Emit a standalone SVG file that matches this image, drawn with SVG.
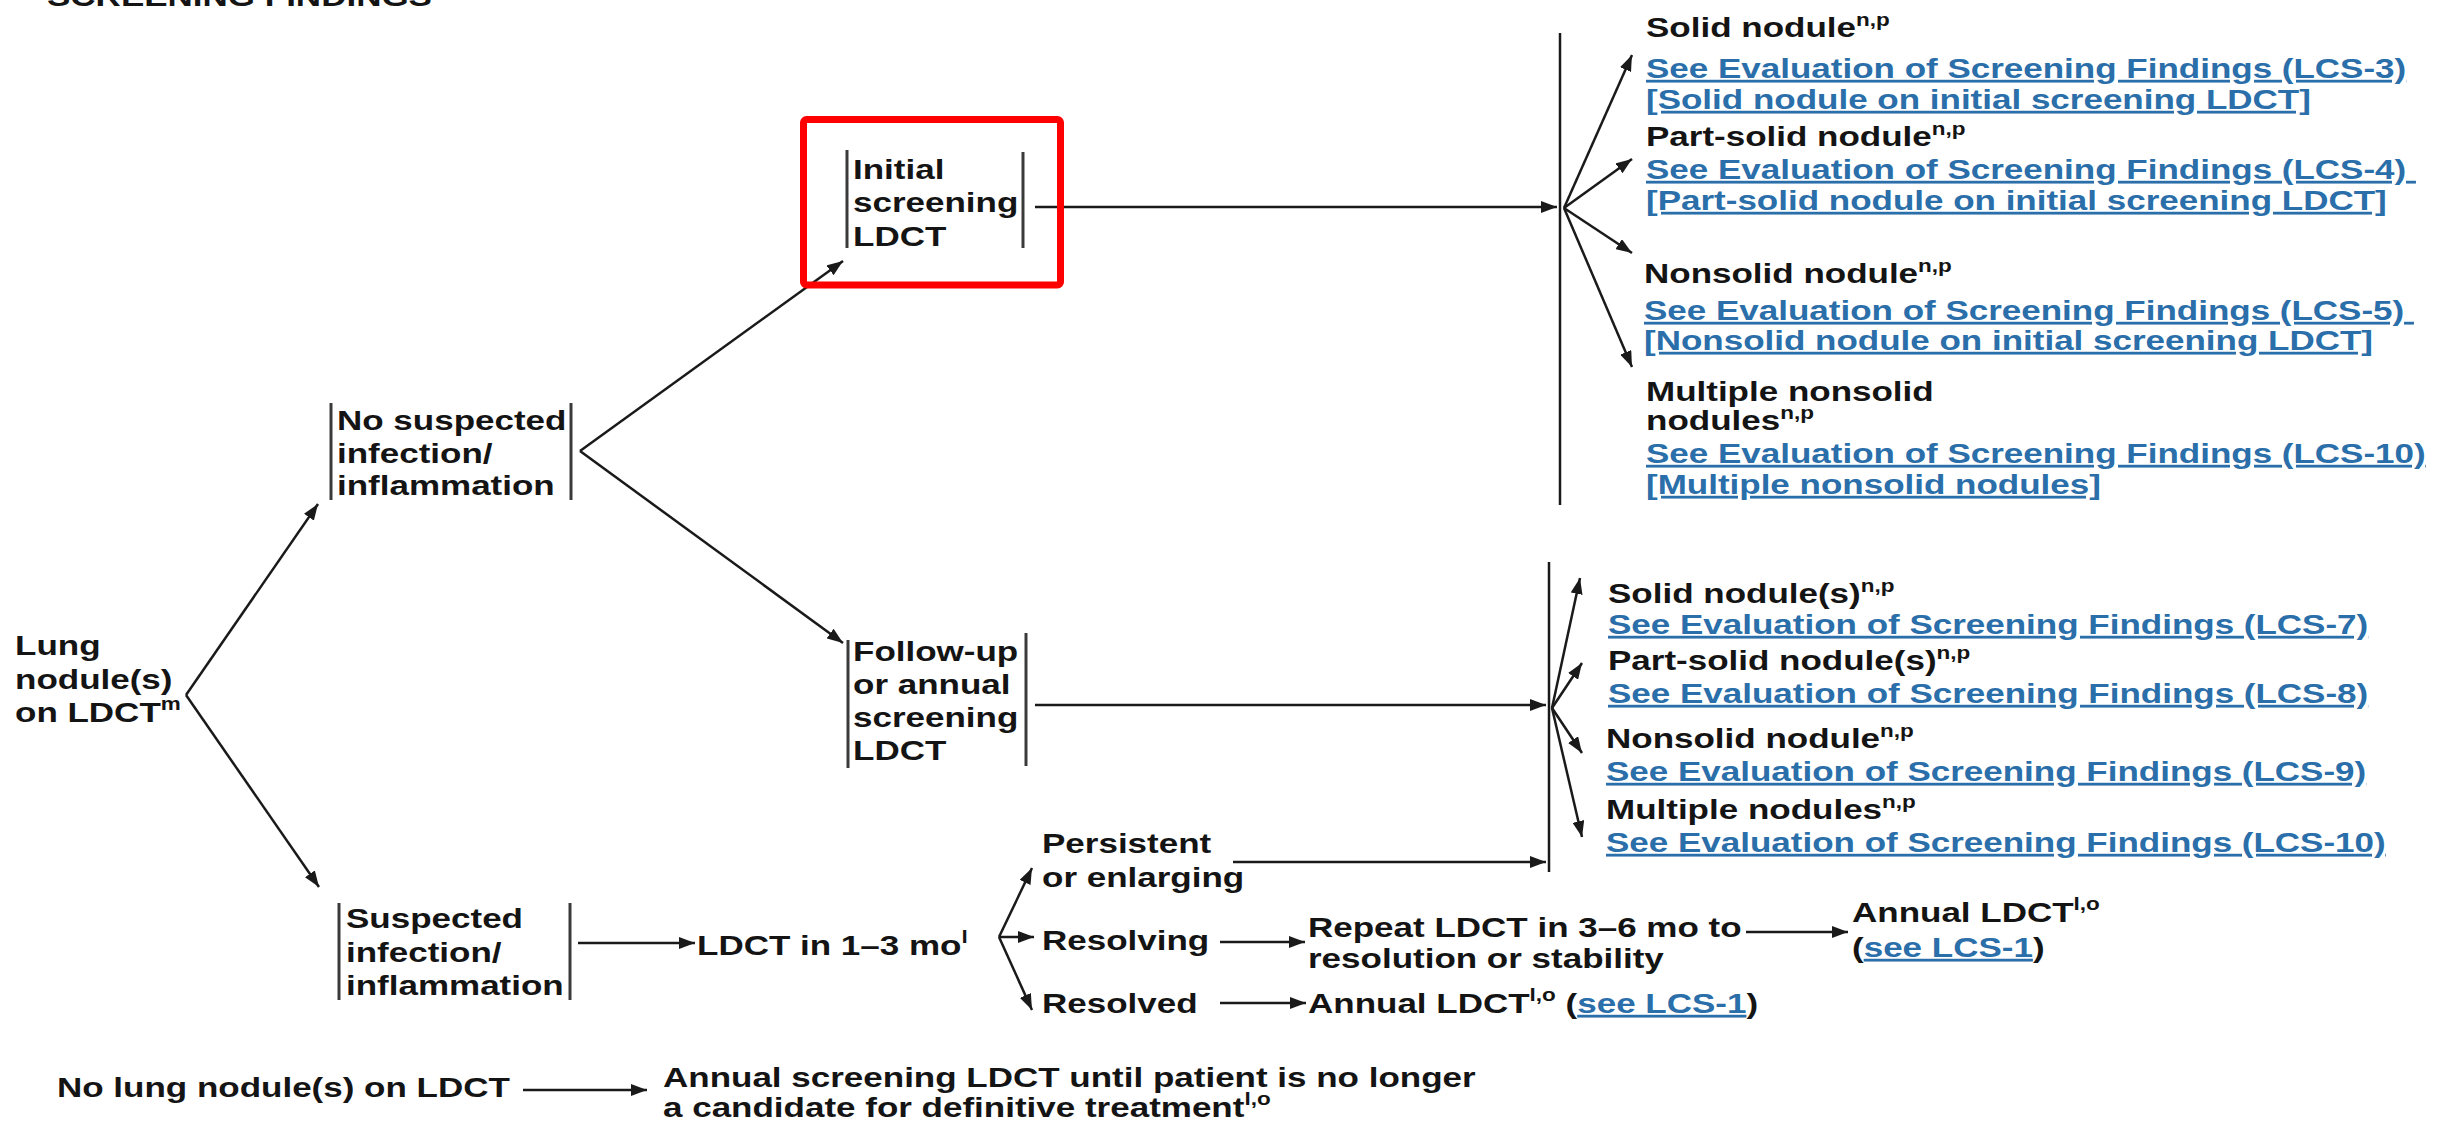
<svg xmlns="http://www.w3.org/2000/svg" width="2445" height="1124" viewBox="0 0 2445 1124">
<defs>
<style>
.t{font-family:"Liberation Sans",Arial,Helvetica,sans-serif;font-weight:bold;font-size:28px;fill:#141414}
.lk{fill:#2a6eaa;text-decoration:underline}
.sup{font-size:18px}
.ln{stroke:#1a1a1a;stroke-width:2.5;fill:none}
.ar{marker-end:url(#ah)}
.bar{stroke:#3a3a3a;stroke-width:3;fill:none}
</style>
<marker id="ah" viewBox="0 0 16 12" refX="16" refY="6" markerWidth="16" markerHeight="12" markerUnits="userSpaceOnUse" orient="auto">
<path d="M0,0 L16,6 L0,12 z" fill="#1a1a1a"/>
</marker>
</defs>
<rect width="2445" height="1124" fill="#ffffff"/>

<g id="title">
<text class="t" font-size="31" transform="translate(47,6) scale(1.25,1)">SCREENING FINDINGS</text>
</g>

<g id="connectors">
<line class="ln ar" x1="186" y1="695" x2="318" y2="504"/>
<line class="ln ar" x1="186" y1="695" x2="319" y2="887"/>
<line class="ln ar" x1="580" y1="451" x2="843" y2="261"/>
<line class="ln ar" x1="580" y1="451" x2="843" y2="643"/>
<line class="ln ar" x1="1035" y1="207" x2="1557" y2="207"/>
<line class="ln" x1="1560" y1="33" x2="1560" y2="505"/>
<line class="ln ar" x1="1564" y1="208" x2="1632" y2="55"/>
<line class="ln ar" x1="1564" y1="208" x2="1632" y2="159"/>
<line class="ln ar" x1="1564" y1="208" x2="1632" y2="253"/>
<line class="ln ar" x1="1564" y1="208" x2="1632" y2="367"/>
<line class="ln ar" x1="1035" y1="705" x2="1546" y2="705"/>
<line class="ln" x1="1549" y1="562" x2="1549" y2="872"/>
<line class="ln ar" x1="1552" y1="708" x2="1580" y2="578"/>
<line class="ln ar" x1="1552" y1="708" x2="1582" y2="663"/>
<line class="ln ar" x1="1552" y1="708" x2="1582" y2="753"/>
<line class="ln ar" x1="1552" y1="708" x2="1582" y2="837"/>
<line class="ln ar" x1="578" y1="943" x2="695" y2="943"/>
<line class="ln ar" x1="999" y1="937" x2="1032" y2="868"/>
<line class="ln ar" x1="999" y1="937" x2="1034" y2="937"/>
<line class="ln ar" x1="999" y1="937" x2="1032" y2="1010"/>
<line class="ln ar" x1="1233" y1="862" x2="1546" y2="862"/>
<line class="ln ar" x1="1220" y1="942" x2="1305" y2="942"/>
<line class="ln ar" x1="1220" y1="1003" x2="1306" y2="1003"/>
<line class="ln ar" x1="1746" y1="932" x2="1848" y2="932"/>
<line class="ln ar" x1="523" y1="1090" x2="647" y2="1090"/>
</g>

<g id="n-lung">
<text class="t" transform="translate(15,655) scale(1.25,1)"><tspan x="0" y="0">Lung</tspan><tspan x="0" y="34">nodule(s)</tspan><tspan x="0" y="67">on LDCT</tspan><tspan class="sup" dy="-12">m</tspan></text>
</g>

<g id="n-nosusp">
<line class="bar" x1="331" y1="403" x2="331" y2="500"/>
<line class="bar" x1="571" y1="403" x2="571" y2="500"/>
<text class="t" transform="translate(337,430) scale(1.25,1)"><tspan x="0" y="0">No suspected</tspan><tspan x="0" y="33">infection/</tspan><tspan x="0" y="65">inflammation</tspan></text>
</g>

<g id="n-initial">
<line class="bar" x1="847" y1="150" x2="847" y2="248"/>
<line class="bar" x1="1023" y1="152" x2="1023" y2="248"/>
<text class="t" transform="translate(853,179) scale(1.25,1)"><tspan x="0" y="0">Initial</tspan><tspan x="0" y="33">screening</tspan><tspan x="0" y="67">LDCT</tspan></text>
</g>

<g id="highlight">
<rect x="803.5" y="119.5" width="257" height="165.5" rx="3" fill="none" stroke="#ff0000" stroke-width="7"/>
</g>

<g id="n-followup">
<line class="bar" x1="848" y1="640" x2="848" y2="768"/>
<line class="bar" x1="1026" y1="633" x2="1026" y2="766"/>
<text class="t" transform="translate(853,661) scale(1.25,1)"><tspan x="0" y="0">Follow-up</tspan><tspan x="0" y="33">or annual</tspan><tspan x="0" y="66">screening</tspan><tspan x="0" y="99">LDCT</tspan></text>
</g>

<g id="n-susp">
<line class="bar" x1="339" y1="903" x2="339" y2="1000"/>
<line class="bar" x1="570" y1="903" x2="570" y2="1000"/>
<text class="t" transform="translate(346,928) scale(1.25,1)"><tspan x="0" y="0">Suspected</tspan><tspan x="0" y="34">infection/</tspan><tspan x="0" y="67">inflammation</tspan></text>
</g>

<g id="n-ldct13">
<text class="t" transform="translate(697,955) scale(1.25,1)">LDCT in 1–3 mo<tspan class="sup" dy="-12">l</tspan></text>
</g>

<g id="n-persist">
<text class="t" transform="translate(1042,853) scale(1.25,1)"><tspan x="0" y="0">Persistent</tspan><tspan x="0" y="34">or enlarging</tspan></text>
</g>

<g id="n-resolving">
<text class="t" transform="translate(1042,950) scale(1.25,1)">Resolving</text>
</g>

<g id="n-resolved">
<text class="t" transform="translate(1042,1013) scale(1.25,1)">Resolved</text>
</g>

<g id="n-repeat">
<text class="t" transform="translate(1308,937) scale(1.25,1)"><tspan x="0" y="0">Repeat LDCT in 3–6 mo to</tspan><tspan x="0" y="31">resolution or stability</tspan></text>
</g>

<g id="n-annual1">
<text class="t" transform="translate(1852,922) scale(1.25,1)"><tspan x="0" y="0">Annual LDCT</tspan><tspan class="sup" dy="-12">l,o</tspan><tspan x="0" y="35">(</tspan><tspan class="lk">see LCS-1</tspan><tspan>)</tspan></text>
</g>

<g id="n-annual2">
<text class="t" transform="translate(1308,1013) scale(1.25,1)">Annual LDCT<tspan class="sup" dy="-12">l,o</tspan><tspan dy="12"> (</tspan><tspan class="lk">see LCS-1</tspan><tspan>)</tspan></text>
</g>

<g id="n-nolung">
<text class="t" transform="translate(57,1097) scale(1.25,1)">No lung nodule(s) on LDCT</text>
</g>

<g id="n-annualscr">
<text class="t" transform="translate(663,1087) scale(1.25,1)"><tspan x="0" y="0">Annual screening LDCT until patient is no longer</tspan><tspan x="0" y="30">a candidate for definitive treatment</tspan><tspan class="sup" dy="-12">l,o</tspan></text>
</g>

<g id="n-solid1">
<text class="t" transform="translate(1646,37) scale(1.25,1)">Solid nodule<tspan class="sup" dy="-11">n,p</tspan></text>
<text class="t lk" transform="translate(1646,78) scale(1.25,1)"><tspan x="0" y="0">See Evaluation of Screening Findings (LCS-3)</tspan><tspan x="0" y="31">[Solid nodule on initial screening LDCT]</tspan></text>
</g>

<g id="n-partsolid1">
<text class="t" transform="translate(1646,146) scale(1.25,1)">Part-solid nodule<tspan class="sup" dy="-11">n,p</tspan></text>
<text class="t lk" transform="translate(1646,179) scale(1.25,1)"><tspan x="0" y="0">See Evaluation of Screening Findings (LCS-4)&#160;</tspan><tspan x="0" y="31">[Part-solid nodule on initial screening LDCT]</tspan></text>
</g>

<g id="n-nonsolid1">
<text class="t" transform="translate(1644,283) scale(1.25,1)">Nonsolid nodule<tspan class="sup" dy="-11">n,p</tspan></text>
<text class="t lk" transform="translate(1644,320) scale(1.25,1)"><tspan x="0" y="0">See Evaluation of Screening Findings (LCS-5)&#160;</tspan><tspan x="0" y="30">[Nonsolid nodule on initial screening LDCT]</tspan></text>
</g>

<g id="n-multi1">
<text class="t" transform="translate(1646,401) scale(1.25,1)"><tspan x="0" y="0">Multiple nonsolid</tspan><tspan x="0" y="29">nodules</tspan><tspan class="sup" dy="-11">n,p</tspan></text>
<text class="t lk" transform="translate(1646,463) scale(1.25,1)"><tspan x="0" y="0">See Evaluation of Screening Findings (LCS-10)</tspan><tspan x="0" y="31">[Multiple nonsolid nodules]</tspan></text>
</g>

<g id="n-solid2">
<text class="t" transform="translate(1608,603) scale(1.25,1)">Solid nodule(s)<tspan class="sup" dy="-11">n,p</tspan></text>
<text class="t lk" transform="translate(1608,634) scale(1.25,1)">See Evaluation of Screening Findings (LCS-7)</text>
</g>

<g id="n-partsolid2">
<text class="t" transform="translate(1608,670) scale(1.25,1)">Part-solid nodule(s)<tspan class="sup" dy="-11">n,p</tspan></text>
<text class="t lk" transform="translate(1608,703) scale(1.25,1)">See Evaluation of Screening Findings (LCS-8)</text>
</g>

<g id="n-nonsolid2">
<text class="t" transform="translate(1606,748) scale(1.25,1)">Nonsolid nodule<tspan class="sup" dy="-11">n,p</tspan></text>
<text class="t lk" transform="translate(1606,781) scale(1.25,1)">See Evaluation of Screening Findings (LCS-9)</text>
</g>

<g id="n-multi2">
<text class="t" transform="translate(1606,819) scale(1.25,1)">Multiple nodules<tspan class="sup" dy="-11">n,p</tspan></text>
<text class="t lk" transform="translate(1606,852) scale(1.25,1)">See Evaluation of Screening Findings (LCS-10)</text>
</g>
</svg>
